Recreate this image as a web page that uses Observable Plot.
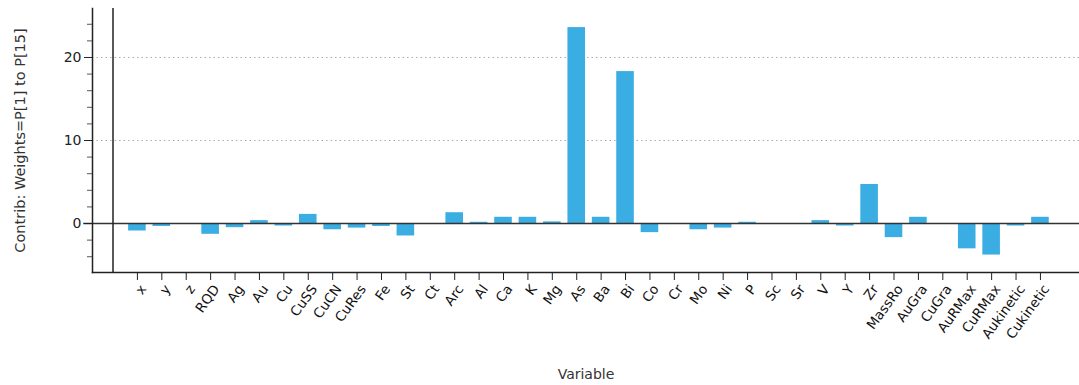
<!DOCTYPE html>
<html>
<head>
<meta charset="utf-8">
<script src="https://cdn.jsdelivr.net/npm/d3@7"></script>
<script src="https://cdn.jsdelivr.net/npm/@observablehq/plot@0.6"></script>
<style>
  html, body { margin: 0; padding: 0; background: #fff; }
  #chart svg { display: block; }
</style>
</head>
<body>
<div id="chart"></div>
<script>
const variables = ["x","y","z","RQD","Ag","Au","Cu","CuSS","CuCN","CuRes","Fe","St","Ct","Arc","Al","Ca","K","Mg","As","Ba","Bi","Co","Cr","Mo","Ni","P","Sc","Sr","V","Y","Zr","MassRo","AuGra","CuGra","AuRMax","CuRMax","Aukinetic","Cukinetic"];
const contributions = [-0.9,-0.35,0,-1.3,-0.5,0.35,-0.3,1.1,-0.75,-0.55,-0.35,-1.5,0,1.3,0.15,0.75,0.75,0.2,23.6,0.75,18.3,-1.1,0,-0.75,-0.55,0.15,0,0,0.35,-0.3,4.7,-1.7,0.75,0,-3.05,-3.8,-0.3,0.75];
const majorTicks = [0, 10, 20];
const minorTicks = [-4, -2, 2, 4, 6, 8, 12, 14, 16, 18, 22, 24];
const gridValues = [10, 20];
const yLabel = "Contrib: Weights=P[1] to P[15]";
const xLabel = "Variable";

const data = variables.map((v, i) => ({pos: i + 1, variable: v, value: contributions[i]}));
const half = 0.36;

const font = "DejaVu Sans, Verdana, sans-serif";

const chart = Plot.plot({
  width: 1079,
  height: 385,
  marginLeft: 92,
  marginRight: 0,
  marginTop: 8,
  marginBottom: 113,
  style: {fontFamily: font, fontSize: "12px", color: "#222", background: "#fff"},
  x: {type: "linear", domain: [-0.84, 39.6]},
  y: {domain: [-5.9, 25.9]},
  marks: [
    Plot.gridY(gridValues, {stroke: "#aaa", strokeOpacity: 1, strokeDasharray: "1.5,3"}),
    Plot.rectY(data, {x1: d => d.pos - half, x2: d => d.pos + half, y1: 0, y2: "value", fill: "#3aade2"}),
    Plot.ruleY([0], {x1: -1.2, x2: 39.6, stroke: "#333", strokeWidth: 1.5, clip: false}),
    Plot.ruleX([0], {stroke: "#222", strokeWidth: 1.5}),
    Plot.frame({anchor: "left", stroke: "#222", strokeWidth: 1.5}),
    Plot.frame({anchor: "bottom", stroke: "#222", strokeWidth: 1.5}),
    Plot.axisY(minorTicks, {tickSize: 5, tickFormat: () => "", label: null, stroke: "#555"}),
    Plot.axisY(majorTicks, {tickSize: 8, tickPadding: 3, label: yLabel, labelAnchor: "center", labelArrow: "none", labelOffset: 78, stroke: "#222"}),
    Plot.axisX(variables.map((v, i) => i + 1), {
      tickSize: 8, tickRotate: -54, tickPadding: 3,
      tickFormat: p => variables[p - 1],
      label: xLabel, labelAnchor: "center", labelArrow: "none", labelOffset: 106,
      stroke: "#222"
    })
  ]
});

chart.querySelectorAll("g[aria-label='x-axis tick label']").forEach(g => {
  g.setAttribute("font-size", "13.5"); g.setAttribute("fill", "#111");
  g.querySelectorAll("text").forEach(t => {
    const tr = t.getAttribute("transform") || "";
    t.setAttribute("transform", "translate(6,3) " + tr);
  });
});
chart.querySelectorAll("g[aria-label='y-axis tick label']").forEach(g => { g.setAttribute("font-size", "14"); g.setAttribute("fill", "#222"); });
chart.querySelectorAll("g[aria-label='x-axis label']").forEach(g => {
  g.setAttribute("font-size", "14"); g.setAttribute("fill", "#333");
});
chart.querySelectorAll("g[aria-label='y-axis label']").forEach(g => {
  g.setAttribute("font-size", "14.5"); g.setAttribute("fill", "#333");
});
document.getElementById("chart").appendChild(chart);
</script>
</body>
</html>
